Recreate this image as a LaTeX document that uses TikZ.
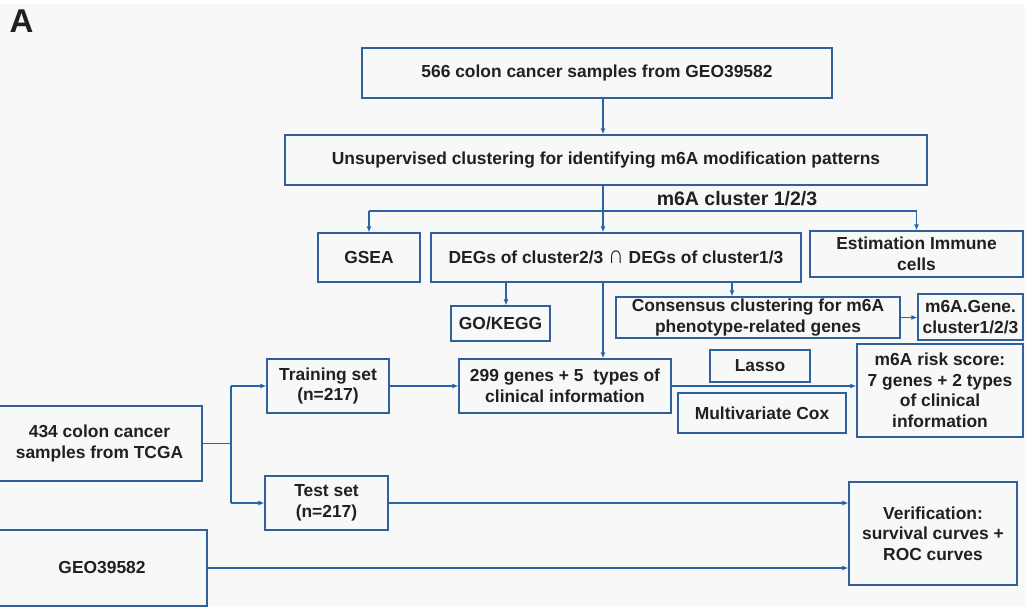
\documentclass[tikz,border=0pt]{standalone}
\usepackage{fontspec}
\setmainfont{Liberation Sans}
\usetikzlibrary{arrows.meta}
\definecolor{bg}{HTML}{F8F8F8}
\definecolor{boxblue}{HTML}{2F5F9C}
\definecolor{lineblue}{HTML}{2A64A6}
\definecolor{txt}{HTML}{231F20}
\tikzset{
  box/.style={draw=boxblue, line width=1.4pt, rectangle, inner sep=0pt, align=center,
    text=txt, font=\bfseries\fontsize{17.4}{20.5}\selectfont},
  conn/.style={draw=lineblue, line width=1.1pt},
  arr/.style={conn, -{Latex[length=6pt,width=5pt]}},
}
\begin{document}
\begin{tikzpicture}[x=1pt,y=-1pt]
\fill[bg] (0,0) rectangle (1025,606);
\fill[white] (0,0) rectangle (1025,4);
\useasboundingbox (0,0) rectangle (1025,606);

\node[text=txt, font=\bfseries\fontsize{33}{33}\selectfont, anchor=center] (lab) at (21.5,21.5) {A};

\node[box, minimum width=470, minimum height=50] (b1) at (597,73) {566 colon cancer samples from GEO39582};
\node[box, minimum width=642, minimum height=50] (b2) at (606,160) {Unsupervised clustering for identifying m6A modification patterns};
\node[text=txt, font=\bfseries\fontsize{19.5}{22}\selectfont] (clab) at (737,199) {m6A cluster 1/2/3};
\node[box, minimum width=102, minimum height=49] (gsea) at (369,257.5) {GSEA};
\node[box, minimum width=370, minimum height=49] (degs) at (616,257.5) {DEGs of cluster2/3 \scalebox{1.25}[1.45]{∩} DEGs of cluster1/3};
\node[box, minimum width=213, minimum height=46] (est) at (916.5,254) {Estimation Immune\\cells};
\node[box, minimum width=99, minimum height=35] (gokegg) at (500.5,323.5) {GO/KEGG};
\node[box, minimum width=284, minimum height=41] (cons) at (758,317.5) {Consensus clustering for m6A\\phenotype-related genes};
\node[box, minimum width=105, minimum height=46] (gene) at (970.5,317) {m6A.Gene.\\cluster1/2/3};
\node[box, minimum width=212, minimum height=54] (p299) at (565,386) {299 genes + 5\ \ types of\\clinical information};
\node[box, minimum width=100, minimum height=32] (lasso) at (760,366) {Lasso};
\node[box, minimum width=168, minimum height=40] (cox) at (762,413) {Multivariate Cox};
\node[box, minimum width=166, minimum height=93] (risk) at (940,390.5) {m6A risk score:\\7 genes + 2 types\\of clinical\\information};
\node[box, minimum width=205, minimum height=75] (tcga) at (99.5,443.5) {434 colon cancer\\samples from TCGA};
\node[box, minimum width=122, minimum height=54] (train) at (328,386) {Training set\\(n=217)};
\node[box, minimum width=123, minimum height=54] (test) at (326.5,503) {Test set\\(n=217)};
\node[box, minimum width=210, minimum height=76] (geo) at (102,568) {GEO39582};
\node[box, minimum width=168, minimum height=103] (verif) at (933,533.5) {Verification:\\survival curves +\\ROC curves};

\coordinate (c603) at (603,0);
\coordinate (c506) at (506,0);
\coordinate (c732) at (732,0);
\coordinate (hy) at (0,211);
\coordinate (bx) at (231,0);

\draw[arr] (b1.south -| c603) -- (b2.north -| c603);
\draw[arr] (b2.south -| c603) -- (degs.north -| c603);
\draw[conn] (gsea.north |- hy) -- (est.north |- hy);
\draw[arr] (gsea.north |- hy) -- (gsea.north);
\draw[arr] (est.north |- hy) -- (est.north);
\draw[arr] (degs.south -| c506) -- (gokegg.north -| c506);
\draw[arr] (degs.south -| c732) -- (cons.north -| c732);
\draw[arr] (degs.south -| c603) -- (p299.north -| c603);
\draw[arr] (cons.east) -- (gene.west |- cons.east);
\draw[arr] (p299.east) -- (risk.west |- p299.east);
\draw[arr] (train.east) -- (p299.west);
\draw[conn] (tcga.east) -- (tcga.east -| bx);
\draw[conn] (bx |- train.west) -- (bx |- test.west);
\draw[arr] (bx |- train.west) -- (train.west);
\draw[arr] (bx |- test.west) -- (test.west);
\draw[arr] (test.east) -- (verif.west |- test.east);
\draw[arr] (geo.east) -- (verif.west |- geo.east);
\end{tikzpicture}
\end{document}
